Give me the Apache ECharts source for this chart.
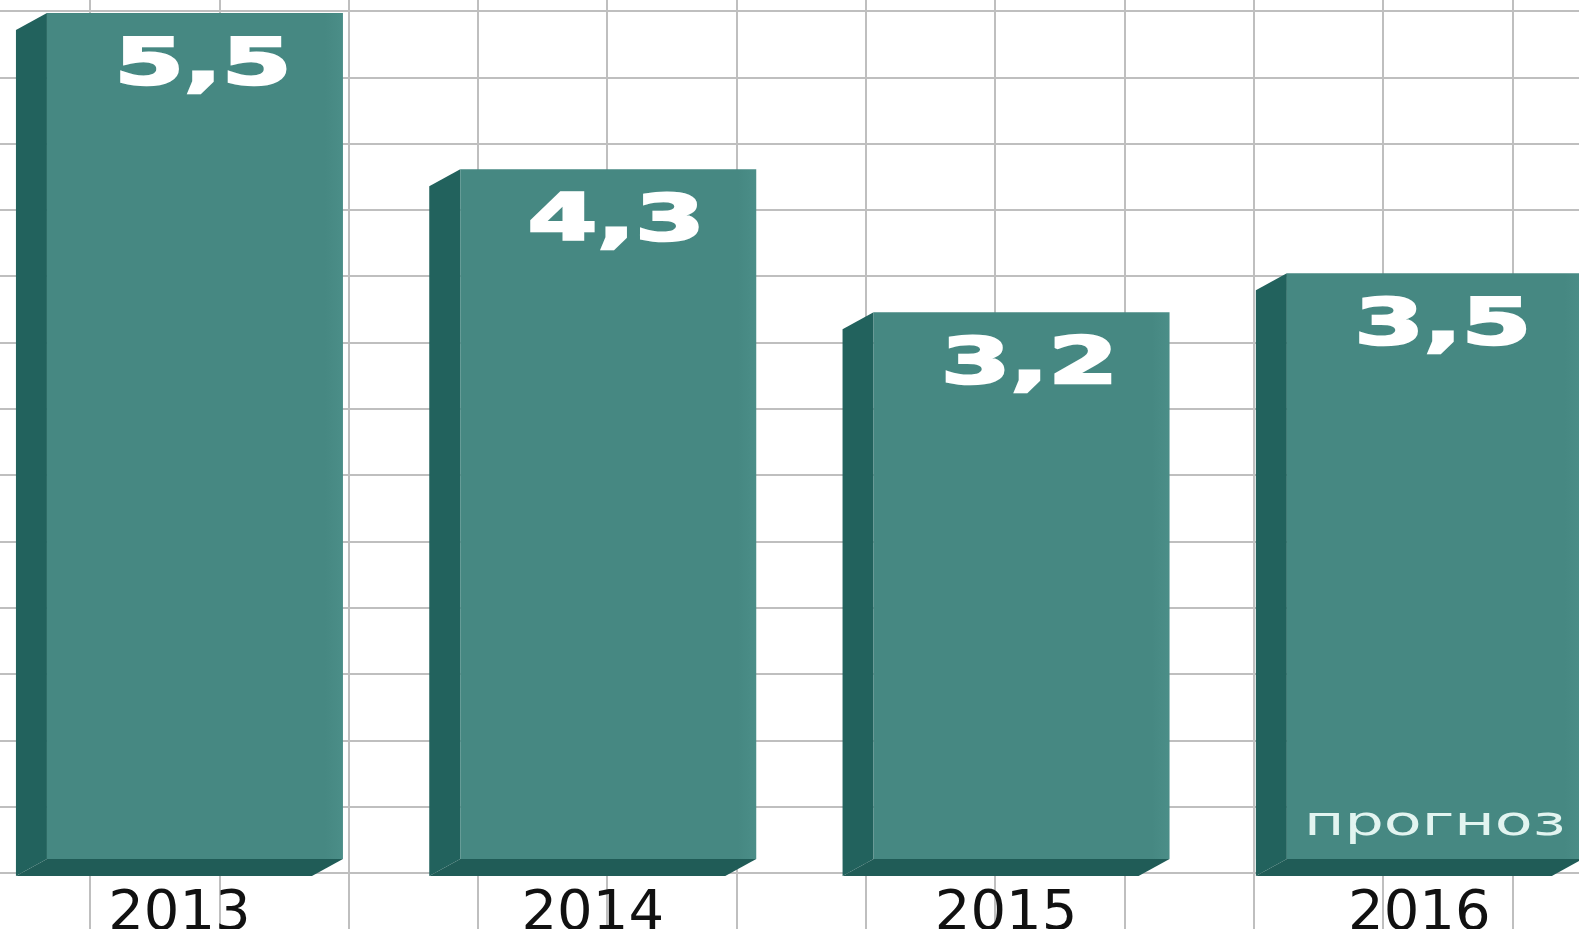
<!DOCTYPE html>
<html>
<head>
<meta charset="utf-8">
<title>2013–2016</title>
<script src="https://cdn.jsdelivr.net/npm/echarts@6/dist/echarts.min.js"></script>
<style>
  html, body { margin: 0; padding: 0; background: #ffffff; }
  #chart { width: 1579px; height: 929px; }
</style>
</head>
<body>
<div id="chart"></div>
<script>
// Years on the category axis
const years = ['2013', '2014', '2015', '2016'];
// Bar values
const values = [5.5, 4.3, 3.2, 3.5];
// Caption written inside a bar (forecast year)
const notes = ['', '', '', 'прогноз'];
// The value axis starts below zero, bars rise from this floor
const AXIS_MIN = -1;
const AXIS_MAX = 5.6;

// 3D box look
const FRONT = '#468882';
const SIDE = '#22625d';
const BOTTOM = '#205c57';
const DEPTH_X = 31;
const DEPTH_Y = 17;
const FRONT_W = 296;
const GRID_LINE = { color: '#bfbfbf', width: 2 };

const chart = echarts.init(document.getElementById('chart'), null, { renderer: 'canvas' });

function fmt(v) {
  return String(v).replace('.', ',');
}

function renderBox(params, api) {
  const idx = api.value(0);
  const val = api.value(1);
  const note = notes[idx];
  const top = api.coord([idx, val]);
  const base = api.coord([idx, AXIS_MIN]);
  const cx = top[0];
  const fl = cx - (FRONT_W + DEPTH_X) / 2 + DEPTH_X;
  const fr = fl + FRONT_W;
  const t = top[1];
  const b = base[1];
  const children = [
    {
      type: 'polygon',
      shape: { points: [[fl, t], [fl - DEPTH_X, t + DEPTH_Y], [fl - DEPTH_X, b + DEPTH_Y], [fl, b]] },
      style: { fill: SIDE }
    },
    {
      type: 'polygon',
      shape: { points: [[fl, b], [fr, b], [fr - DEPTH_X, b + DEPTH_Y], [fl - DEPTH_X, b + DEPTH_Y]] },
      style: { fill: BOTTOM }
    },
    {
      type: 'rect',
      shape: { x: fl, y: t, width: FRONT_W, height: b - t },
      style: {
        fill: {
          type: 'linear', x: 0, y: 0, x2: 1, y2: 0,
          colorStops: [
            { offset: 0, color: FRONT },
            { offset: 0.94, color: FRONT },
            { offset: 1, color: '#4b8e88' }
          ]
        }
      }
    },
    {
      type: 'text',
      x: (fl + fr) / 2 + 8,
      y: t + 22,
      scaleX: 1.56,
      style: {
        text: fmt(val),
        fill: '#ffffff',
        stroke: '#ffffff',
        lineWidth: 2.5,
        font: 'bold 64px "DejaVu Sans"',
        align: 'center',
        verticalAlign: 'top'
      }
    }
  ];
  if (note) {
    children.push({
      type: 'text',
      x: (fl + fr) / 2,
      y: b - 34,
      scaleX: 1.55,
      style: {
        text: note,
        fill: '#e2f4f0',
        font: '40px "DejaVu Sans"',
        align: 'center',
        verticalAlign: 'middle'
      }
    });
  }
  return { type: 'group', children: children };
}

const hiddenAxis = {
  axisLine: { show: false },
  axisTick: { show: false },
  axisLabel: { show: false },
  splitLine: { show: false }
};

const option = {
  backgroundColor: '#ffffff',
  animation: false,
  grid: [
    // bars
    { left: -27.2, width: 1653.2, top: 0, bottom: 70, outerBoundsMode: 'none', containLabel: false },
    // vertical rulings
    { left: 90, width: 1422.3, top: 0, bottom: 0, outerBoundsMode: 'none' },
    // horizontal rulings
    { left: 0, right: 0, top: 11, height: 861.9, outerBoundsMode: 'none' }
  ],
  xAxis: [
    {
      type: 'category',
      gridIndex: 0,
      data: years,
      axisLine: { show: false },
      axisTick: { show: false },
      splitLine: { show: false },
      axisLabel: {
        margin: 27,
        color: '#111111',
        fontFamily: 'DejaVu Sans',
        fontSize: 56
      }
    },
    Object.assign({ type: 'value', gridIndex: 1, min: 0, max: 11, interval: 1 }, hiddenAxis,
      { splitLine: { show: true, lineStyle: GRID_LINE } }),
    Object.assign({ type: 'value', gridIndex: 2, min: 0, max: 1 }, hiddenAxis)
  ],
  yAxis: [
    { type: 'value', gridIndex: 0, min: AXIS_MIN, max: AXIS_MAX, show: false },
    Object.assign({ type: 'value', gridIndex: 1, min: 0, max: 1 }, hiddenAxis),
    Object.assign({ type: 'value', gridIndex: 2, min: 0, max: 13, interval: 1 }, hiddenAxis,
      { splitLine: { show: true, lineStyle: GRID_LINE } })
  ],
  series: [
    {
      type: 'custom',
      xAxisIndex: 0,
      yAxisIndex: 0,
      clip: false,
      renderItem: renderBox,
      data: values.map((v, i) => [i, v])
    }
  ]
};

chart.setOption(option);
</script>
</body>
</html>
